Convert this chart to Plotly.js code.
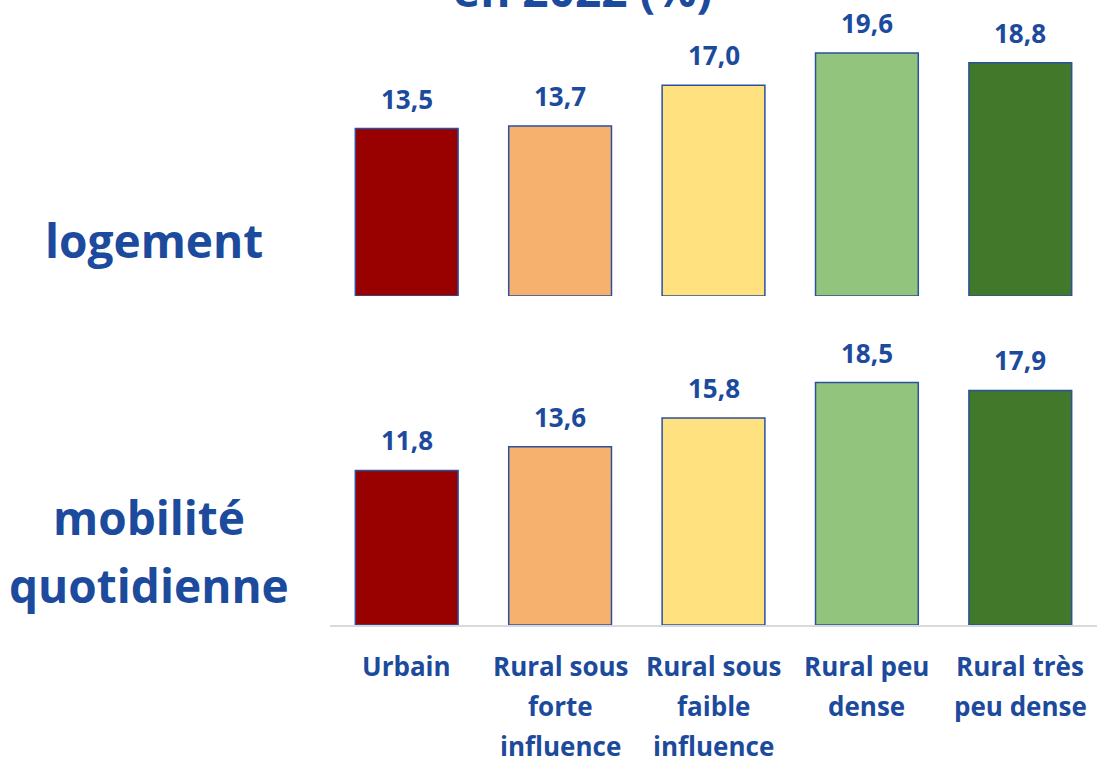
<!DOCTYPE html>
<html>
<head>
<meta charset="utf-8">
<script src="https://cdn.plot.ly/plotly-3.0.1.min.js"></script>
<style>html,body{margin:0;padding:0;background:#fff;}#chart{width:1097px;height:758px;}</style>
</head>
<body>
<div id="chart"></div>
<script>
const categories = ['Urbain', 'Rural sous forte influence', 'Rural sous faible influence', 'Rural peu dense', 'Rural très peu dense'];
const tickLabels = [['Urbain'], ['Rural sous', 'forte', 'influence'], ['Rural sous', 'faible', 'influence'], ['Rural peu', 'dense'], ['Rural très', 'peu dense']];
const logementValues = [13.5, 13.7, 17.0, 19.6, 18.8];
const mobiliteValues = [11.8, 13.6, 15.8, 18.5, 17.9];
const barColors = ['#990000', '#F5B16D', '#FFE27F', '#93C47D', '#41782A'];
const panelLabels = [['logement'], ['mobilité', 'quotidienne']];
const titleText = 'en 2022 (%)';

const blue = '#1C4A9C';
const font = '"Open Sans", sans-serif';
const fmt = v => v.toFixed(1).replace('.', ',');

const barStyle = {color: barColors, line: {color: '#2A50A0', width: 1.5}};

const traces = [
  {type: 'bar', x: categories, y: logementValues, xaxis: 'x2', yaxis: 'y2', marker: barStyle, hoverinfo: 'skip'},
  {type: 'bar', x: categories, y: mobiliteValues, xaxis: 'x', yaxis: 'y', marker: barStyle, hoverinfo: 'skip'}
];

const annotations = [];
logementValues.forEach((v, i) => annotations.push({
  xref: 'x2', yref: 'y2', x: categories[i], y: v, text: fmt(v), showarrow: false,
  yanchor: 'bottom', yshift: 10, font: {family: font, size: 26, color: blue, weight: 'bold'}
}));
mobiliteValues.forEach((v, i) => annotations.push({
  xref: 'x', yref: 'y', x: categories[i], y: v, text: fmt(v), showarrow: false,
  yanchor: 'bottom', yshift: 10, font: {family: font, size: 26, color: blue, weight: 'bold'}
}));
tickLabels.forEach((lines, i) => lines.forEach((t, j) => annotations.push({
  xref: 'x', yref: 'paper', x: categories[i], y: 0, text: t, showarrow: false,
  yanchor: 'middle', yshift: -41 - j * 40, font: {family: font, size: 26, color: blue, weight: 'bold'}
})));
// panel labels
annotations.push({xref: 'paper', yref: 'paper', x: 0, y: 0, xshift: -176, yshift: 625 - 240, text: panelLabels[0][0], showarrow: false,
  xanchor: 'center', yanchor: 'middle', font: {family: font, size: 46, color: blue, weight: 'bold'}});
panelLabels[1].forEach((t, j) => annotations.push({xref: 'paper', yref: 'paper', x: 0, y: 0, xshift: -181, yshift: 625 - 517 - j * 68, text: t, showarrow: false,
  xanchor: 'center', yanchor: 'middle', font: {family: font, size: 46, color: blue, weight: 'bold'}}));
// cut-off title
annotations.push({xref: 'paper', yref: 'paper', x: 0, y: 1, xshift: 582 - 330, yshift: 11, text: titleText, showarrow: false,
  xanchor: 'center', yanchor: 'middle', font: {family: font, size: 46, color: blue, weight: 'bold'}});

const layout = {
  width: 1097, height: 758,
  margin: {l: 330, r: 0, t: 0, b: 133},
  paper_bgcolor: '#fff', plot_bgcolor: '#fff',
  showlegend: false,
  bargap: 0.33,
  xaxis: {domain: [0, 1], anchor: 'y', showticklabels: false, ticks: '', showgrid: false, zeroline: false,
    showline: true, linecolor: '#D9D9D9', linewidth: 1.5, fixedrange: true},
  yaxis: {domain: [0, 0.5], range: [0, 23.85], visible: false, fixedrange: true},
  xaxis2: {domain: [0, 1], anchor: 'y2', visible: false, fixedrange: true},
  yaxis2: {domain: [0.5264, 1], range: [0, 23.87], visible: false, fixedrange: true},
  annotations: annotations
};

Plotly.newPlot('chart', traces, layout, {displayModeBar: false, staticPlot: true});
</script>
</body>
</html>
